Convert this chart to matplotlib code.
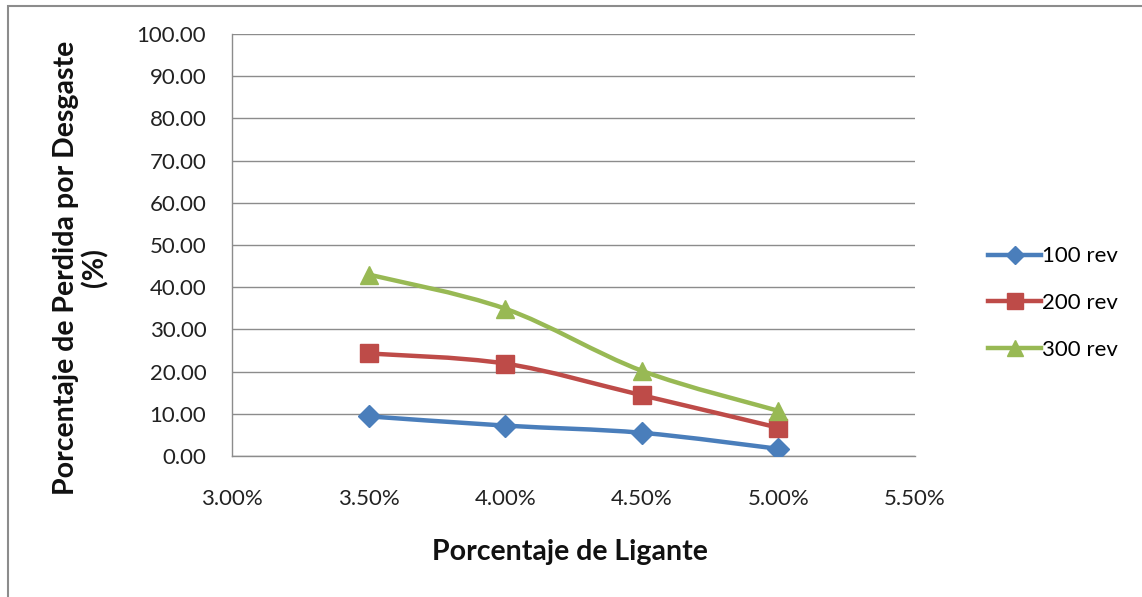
import matplotlib
matplotlib.use("Agg")
import matplotlib.pyplot as plt
from matplotlib.path import Path
from matplotlib.patches import PathPatch, Rectangle
from matplotlib.lines import Line2D
import numpy as np

plt.rcParams['font.family'] = ['Lato', 'DejaVu Sans']

# binder content (%) and wear loss (%) for each number of revolutions
ligante = [3.5, 4.0, 4.5, 5.0]
rev_100 = [9.4, 7.2, 5.5, 1.7]
rev_200 = [24.3, 21.9, 14.4, 6.7]
rev_300 = [43.0, 34.9, 20.2, 10.7]
series_names = ['100 rev', '200 rev', '300 rev']
colors = ['#4a7ebb', '#be4b48', '#98b954']
markers = ['D', 's', '^']
msizes = [11, 13.5, 13.5]


def smooth_path(x, y, tension=1/6):
    # cubic bezier segments through the points (Catmull-Rom style)
    x = np.asarray(x, float)
    y = np.asarray(y, float)
    verts = [(x[0], y[0])]
    codes = [Path.MOVETO]
    n = len(x)
    for i in range(n - 1):
        p0 = i - 1 if i > 0 else i
        p3 = i + 2 if i + 2 < n else i + 1
        c1 = (x[i] + (x[i + 1] - x[p0]) * tension, y[i] + (y[i + 1] - y[p0]) * tension)
        c2 = (x[i + 1] - (x[p3] - x[i]) * tension, y[i + 1] - (y[p3] - y[i]) * tension)
        verts += [c1, c2, (x[i + 1], y[i + 1])]
        codes += [Path.CURVE4] * 3
    return Path(verts, codes)


fig = plt.figure(figsize=(11.42, 5.97), dpi=100)
# chart frame (runs off the right and bottom edges)
fig.patches.append(Rectangle((8 / 1142, -0.05), 1.1, 1 - 6 / 597 + 0.05,
                             transform=fig.transFigure, fill=False,
                             edgecolor='#8c8c8c', linewidth=1.5))

ax = fig.add_axes([232 / 1142, 1 - 456 / 597, (915 - 232) / 1142, (456 - 34) / 597])

for ys, c, m, ms in zip([rev_100, rev_200, rev_300], colors, markers, msizes):
    ax.add_patch(PathPatch(smooth_path(ligante, ys), facecolor='none',
                           edgecolor=c, linewidth=3.2, zorder=3, capstyle='round'))
    ax.plot(ligante, ys, linestyle='none', marker=m, markersize=ms, color=c, zorder=4)

ax.set_xlim(3.0, 5.5)
ax.set_ylim(0, 100)
ax.set_xticks([3.0, 3.5, 4.0, 4.5, 5.0, 5.5])
ax.set_xticklabels(['%.2f%%' % v for v in [3.0, 3.5, 4.0, 4.5, 5.0, 5.5]])
ax.set_yticks(np.arange(0, 101, 10))
ax.set_yticklabels(['%.2f' % v for v in np.arange(0, 101, 10)])
ax.tick_params(length=0, labelsize=16, colors='#222222')
ax.tick_params(axis='x', pad=24)
ax.tick_params(axis='y', pad=18.5)
ax.grid(axis='y', color='#8c8c8c', linewidth=1)
ax.set_axisbelow(True)
for side in ['top', 'right']:
    ax.spines[side].set_visible(False)
for side in ['left', 'bottom']:
    ax.spines[side].set_color('#8c8c8c')
    ax.spines[side].set_linewidth(1)

fig.text(570 / 1142, 1 - 552 / 597, 'Porcentaje de Ligante', ha='center', va='center',
         fontsize=20.5, fontweight='bold', color='#111111')
fig.text(81 / 1142, 1 - 268 / 597, 'Porcentaje de Perdida por Desgaste\n(%)', ha='center',
         va='center', rotation=90, fontsize=20.5, fontweight='bold', color='#111111',
         linespacing=1.1)

handles = [Line2D([], [], color=c, marker=m, markersize=ms - 2, linewidth=3.2)
           for c, m, ms in zip(colors, markers, msizes)]
fig.legend(handles, series_names, loc='center left', bbox_to_anchor=(968 / 1142, 1 - 303 / 597),
           frameon=False, fontsize=16, handlelength=2.4, labelspacing=1.2, handletextpad=0.05)

fig.savefig('out.png', dpi=100)
